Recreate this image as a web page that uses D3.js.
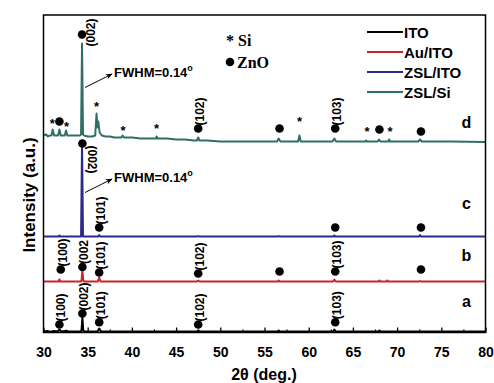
<!DOCTYPE html>
<html><head><meta charset="utf-8">
<script src="https://cdn.jsdelivr.net/npm/d3@7"></script>
<style>
html,body{margin:0;padding:0;background:#fff;}
svg{display:block;}
text{font-weight:bold;}
</style></head>
<body>
<svg id="chart" width="494" height="383"></svg>
<script>
// ---- data ----
const seriesNames = ["ITO", "Au/ITO", "ZSL/ITO", "ZSL/Si"];
const seriesColors = ["#000000", "#c8242b", "#2b2a8a", "#2f6f66"];
const seriesTags = ["a", "b", "c", "d"];
const xTicks = [30, 35, 40, 45, 50, 55, 60, 65, 70, 75, 80];
const xMinorTicks = [32.5, 37.5, 42.5, 47.5, 52.5, 57.5, 62.5, 67.5, 72.5, 77.5];

// spectra: [2theta, intensity (a.u., stacked)]
const specITO = [[30,1],[30.4,1.6],[30.8,0.8],[31.2,1.5],[31.6,1],[31.8,3],[32.0,1],[32.5,1.5],[33,1],[34.2,1],[34.3,2],[34.4,15],[34.5,2],[34.6,1],[36.1,1],[36.3,4],[36.5,1],[47.35,1],[47.5,2],[47.65,1],[56.5,1],[56.6,2],[56.7,1],[62.75,1],[62.9,3],[63.05,1],[67.9,1],[68.0,2],[68.1,1],[80,1]];
const specAu = [[30,51],[31.7,51],[31.8,53],[31.9,51],[34.2,51],[34.3,52],[34.4,62],[34.5,52],[34.6,51],[36.15,51],[36.3,55],[36.45,51],[47.35,51],[47.5,52],[47.65,51],[56.5,51],[56.6,52],[56.7,51],[62.75,51],[62.9,53],[63.05,51],[67.9,51],[68.0,52],[68.1,51],[68.8,51],[68.9,52],[69.0,51],[72.5,51],[72.6,51.5],[72.7,51],[80,51]];
const specZslIto = [[30,96],[31.7,96],[31.8,97],[31.9,96],[34.25,96],[34.36,188],[34.47,96],[36.2,96],[36.3,97.5],[36.4,96],[47.4,96],[47.5,96.5],[47.6,96],[56.5,96],[56.6,96.5],[56.7,96],[62.8,96],[62.9,97],[63.0,96],[72.5,96],[72.6,97.5],[72.7,96],[80,96]];
const specZslSi = [[30.0,197],[30.3,198],[30.5,196],[30.7,197],[30.9,197],[31.04,203],[31.2,197],[31.5,197],[31.65,197],[31.8,203],[31.95,197],[32.2,197],[32.4,197],[32.55,202],[32.7,197],[33.0,197],[33.5,197],[34.1,197],[34.25,198],[34.36,289],[34.47,198],[34.6,197],[35.0,196],[35.5,196],[35.85,197],[36.0,219],[36.1,205],[36.2,211],[36.35,200],[36.6,197],[37.0,196],[37.5,196],[38.0,195],[38.8,195],[38.95,197],[39.1,195],[40,195],[41,194],[42,194],[42.7,194],[42.8,196],[42.9,194],[44,194],[45,193],[46,193],[47,192],[47.35,192],[47.5,195],[47.65,192],[48.5,192],[50,191],[52,191],[54,191],[56.4,191],[56.6,194],[56.8,191],[58.8,191],[58.95,197],[59.1,191],[61,191],[62.7,191],[62.9,194],[63.1,191],[65,191],[66.4,191],[66.5,192],[66.6,191],[67.8,191],[67.95,193],[68.1,191],[69.0,191],[69.1,193],[69.2,191],[72.4,191],[72.6,193],[72.8,191],[76,191],[80,190.5]];
const spectra = [specITO, specAu, specZslIto, specZslSi];

// ZnO peak markers: [2theta, intensity, label]
const dotsITO = [[31.8,8,"(100)"],[34.4,19,"(002)"],[36.3,10.3,"(101)"],[47.5,8,"(102)"],[63.0,10.3,"(103)"]];
const dotsAu = [[31.95,63,"(100)"],[34.4,65.5,"(002"],[36.3,60,"(101)"],[47.5,59,"(102)"],[56.7,61,""],[63.0,61,"(103)"],[72.7,63,""]];
const dotsZslIto = [[34.4,189,"(002)"],[36.3,105,"(101)"],[63.0,105,""],[72.7,105,""]];
const dotsZslSi = [[31.8,211,""],[34.36,298,"(002)"],[47.5,204,"(102)"],[56.7,204,""],[63.0,204,"(103)"],[68.0,203,""],[72.7,201,""]];
// Si peak markers (stars): [2theta, intensity]
const starsZslSi = [[31.0,212],[32.6,209],[36.0,229],[39.0,205],[42.8,207],[58.97,214],[66.6,204],[69.2,204]];
const fwhmLabel = "FWHM=0.14";
const fwhmPeaks = [[34.36,245],[34.36,140]]; // [2theta, intensity at arrow tail]

// ---- layout ----
const ARIAL = "Arial, 'Liberation Sans', sans-serif";
const TIMES = "'Liberation Serif', 'Times New Roman', serif";
const svg = d3.select("#chart").style("font-family", ARIAL);
const L = 43.5, R = 485.5, T = 15, B = 332.5;
const x = d3.scaleLinear().domain([30, 80]).range([L, R]);
const y = d3.scaleLinear().domain([0, 317.5]).range([B, T]);

svg.append("defs").append("clipPath").attr("id","clip")
  .append("rect").attr("x",L).attr("y",T).attr("width",R-L).attr("height",B-T);
svg.select("defs").append("marker").attr("id","arr").attr("viewBox","0 0 10 10")
  .attr("refX",9).attr("refY",5).attr("markerWidth",7).attr("markerHeight",7)
  .attr("orient","auto").append("path").attr("d","M0,1 L10,5 L0,9 L3,5 Z").attr("fill","#000");

const line = d3.line().x(d => x(d[0])).y(d => y(d[1]));
const g = svg.append("g").attr("clip-path","url(#clip)");
spectra.forEach((s, i) => {
  g.append("path").datum(s).attr("d", line).attr("fill","none")
    .attr("stroke", seriesColors[i]).attr("stroke-width", 2).attr("stroke-linejoin","round");
});

// axes
const ax = svg.append("g").attr("transform", `translate(0,${B})`)
  .call(d3.axisBottom(x).tickValues(xTicks).tickSize(-5).tickPadding(15).tickFormat(d3.format("d")));
ax.select(".domain").remove();
ax.selectAll("line").attr("stroke-width",1.3);
ax.selectAll("text").attr("font-size",14).style("font-family",ARIAL).attr("font-weight","bold").attr("fill","#000");
const axm = svg.append("g").attr("transform", `translate(0,${B})`)
  .call(d3.axisBottom(x).tickValues(xMinorTicks).tickSize(-3).tickFormat(""));
axm.select(".domain").remove();
axm.selectAll("line").attr("stroke-width",1.2);

svg.append("rect").attr("x",L).attr("y",T).attr("width",R-L).attr("height",B-T)
  .attr("fill","none").attr("stroke","#000").attr("stroke-width",1.5);

// markers
const allDots = [dotsITO, dotsAu, dotsZslIto, dotsZslSi];
allDots.forEach((arr, si) => {
  arr.forEach((d, k) => {
    const cx = x(d[0]), cy = y(d[1]);
    svg.append("circle").attr("cx",cx).attr("cy",cy).attr("r",4.3).attr("fill","#000");
    if (!d[2]) return;
    let tr;
    if (si === 3 && d[0] < 35) tr = `translate(${cx+13},${cy+12}) rotate(-90)`;
    else if (si === 2 && d[0] < 35) tr = `translate(${cx+6},${cy+2}) rotate(90)`;
    else tr = `translate(${cx+6},${cy-3}) rotate(-90)`;
    svg.append("text").attr("transform",tr).attr("font-size",12).text(d[2]);
  });
});
starsZslSi.forEach(d => {
  svg.append("text").attr("x",x(d[0])).attr("y",y(d[1])+7).attr("text-anchor","middle")
    .style("font-family","'Liberation Sans', 'DejaVu Sans', sans-serif").attr("fill","#000")
    .attr("font-size",13).text("*");
});

// FWHM annotations
fwhmPeaks.forEach((p, i) => {
  const x0 = x(p[0]) + 3, y0 = y(p[1]);
  svg.append("line").attr("x1",x0).attr("y1",y0).attr("x2",x0+27).attr("y2",y0-13.5)
    .attr("stroke","#000").attr("stroke-width",1).attr("marker-end","url(#arr)");
  const t = svg.append("text").attr("x",x0+29).attr("y",y0-11).attr("font-size",13).text(fwhmLabel);
  t.append("tspan").attr("font-size",9).attr("dy",-6).text("o");
});

// legend
seriesNames.forEach((n, i) => {
  const ly = 32 + i*20;
  svg.append("line").attr("x1",367).attr("x2",403).attr("y1",ly).attr("y2",ly)
    .attr("stroke",seriesColors[i]).attr("stroke-width",2);
  svg.append("text").attr("x",404).attr("y",ly+5.5).attr("font-size",15).text(n);
});
// symbol key
svg.append("text").attr("x",226).attr("y",46).style("font-family",TIMES).attr("fill","#000")
  .attr("font-size",16).text("* Si");
svg.append("circle").attr("cx",230).attr("cy",62).attr("r",4.3).attr("fill","#000");
svg.append("text").attr("x",237).attr("y",67.5).style("font-family",TIMES)
  .attr("font-size",16).text("ZnO");

// series tags
const tagY = [300.7, 255, 203, 122];
seriesTags.forEach((t, i) => {
  svg.append("text").attr("x",466.5).attr("y",tagY[i]+6).attr("text-anchor","middle")
    .attr("font-size",16).text(t);
});

// axis titles
svg.append("text").attr("x",264).attr("y",380).attr("text-anchor","middle").attr("font-size",16).text("2θ (deg.)");
svg.append("text").attr("transform","translate(35,195) rotate(-90)").attr("text-anchor","middle")
  .attr("font-size",17).text("Intensity (a.u.)");
</script>
</body></html>
